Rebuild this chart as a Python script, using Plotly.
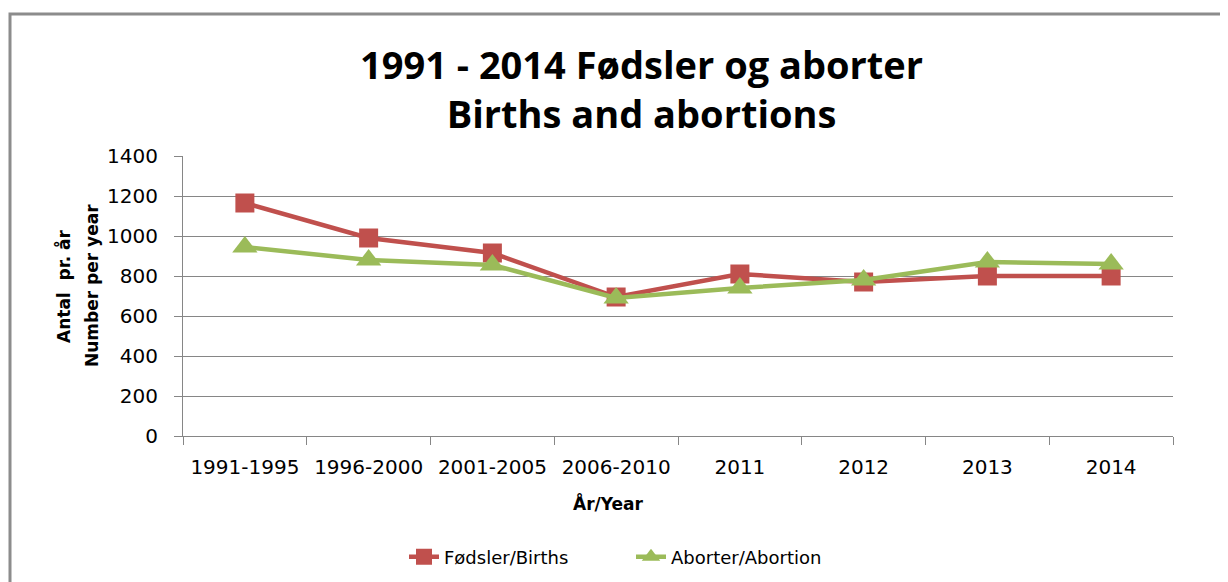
import plotly.graph_objects as go

categories = ["1991-1995", "1996-2000", "2001-2005", "2006-2010", "2011", "2012", "2013", "2014"]
births = [1165, 990, 915, 695, 810, 770, 800, 800]
abortions = [945, 880, 855, 690, 740, 780, 870, 860]
y_ticks = [0, 200, 400, 600, 800, 1000, 1200, 1400]

RED = "#C0504D"
GREEN = "#9BBB59"
FONT = "DejaVu Sans"
TITLE_FONT = "Open Sans"

OFF = 8  # page body margin
W, H = 1228 - OFF, 582 - OFF
L, R, T, B = 183, 1173, 156, 436  # target pixel positions in the window

def px(x):
    return (x - L) / (R - L)

def py(y):
    return (B - y) / (B - T)

fig = go.Figure()
fig.add_trace(go.Scatter(
    x=categories, y=births, name="Fødsler/Births", mode="lines+markers",
    line=dict(color=RED, width=4.5),
    marker=dict(symbol="square", size=19, color=RED),
))
fig.add_trace(go.Scatter(
    x=categories, y=abortions, name="Aborter/Abortion", mode="lines+markers",
    line=dict(color=GREEN, width=4.5),
    marker=dict(symbol="triangle-up", size=22, color=GREEN),
))

fig.update_layout(
    width=W, height=H,
    margin=dict(l=L - OFF, r=1228 - R, t=T - OFF, b=582 - B, pad=0, autoexpand=False),
    paper_bgcolor="white", plot_bgcolor="white",
    font=dict(family=FONT, size=18, color="black"),
    showlegend=True,
    legend=dict(orientation="h", x=px(404), xanchor="left", y=py(557), yanchor="middle",
                font=dict(size=18, family=FONT), tracegroupgap=0,
                entrywidth=182, entrywidthmode="pixels"),
    xaxis=dict(
        type="category", tickson="boundaries", ticks="outside", ticklen=8,
        tickcolor="#868686", showline=True, linecolor="#868686", linewidth=1,
        showgrid=False, tickfont=dict(size=20), range=[-0.5, 7.5],
        ticklabelstandoff=13, automargin=False,
    ),
    yaxis=dict(
        range=[0, 1400], tickvals=y_ticks, ticks="outside", ticklen=8,
        tickcolor="#868686", showline=True, linecolor="#868686", linewidth=1,
        showgrid=True, gridcolor="#868686", gridwidth=1, tickfont=dict(size=20),
        zeroline=False, ticklabelstandoff=12, automargin=False,
    ),
    annotations=[
        dict(text="<b>1991 - 2014 Fødsler og aborter<br>Births and abortions</b>",
             x=px(641), y=py(88), xref="paper", yref="paper", showarrow=False,
             xanchor="center", yanchor="middle", font=dict(size=38, family=TITLE_FONT)),
        dict(text="<b>Antal  pr. år</b>", textangle=-90,
             x=px(63), y=py(287), xref="paper", yref="paper", showarrow=False,
             xanchor="center", yanchor="middle", font=dict(size=17, family=FONT)),
        dict(text="<b>Number per year</b>", textangle=-90,
             x=px(92), y=py(286), xref="paper", yref="paper", showarrow=False,
             xanchor="center", yanchor="middle", font=dict(size=17, family=FONT)),
        dict(text="<b>År/Year</b>",
             x=px(608), y=py(503), xref="paper", yref="paper", showarrow=False,
             xanchor="center", yanchor="middle", font=dict(size=17, family=FONT)),
    ],
    shapes=[
        dict(type="rect", xref="paper", yref="paper",
             x0=px(10), x1=px(1240), y0=py(14), y1=py(600),
             line=dict(color="#8C8C8C", width=3), layer="below"),
    ],
)

fig.write_html("out.html")
